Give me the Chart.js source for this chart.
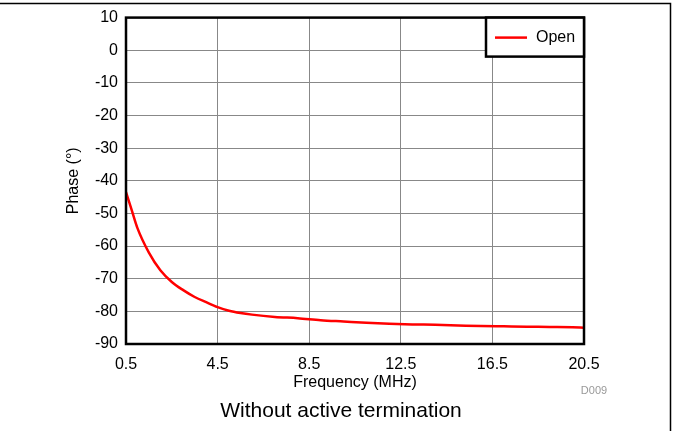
<!DOCTYPE html>
<html>
<head>
<meta charset="utf-8">
<script src="https://cdn.jsdelivr.net/npm/chart.js@4.4.1/dist/chart.umd.min.js"></script>
<style>
  html, body { margin: 0; padding: 0; background: #fff; }
  #wrap { position: relative; width: 673px; height: 431px; }
</style>
</head>
<body>
<div id="wrap"><canvas id="grafico" width="673" height="431"></canvas></div>
<script>
// --- dados ---
const freqMHz = [0.5, 0.75, 1, 1.5, 2, 2.5, 3, 3.5, 4, 4.5, 5, 5.5, 6, 7, 8, 9, 10, 11, 12, 13, 14, 15, 16, 17, 18, 19, 20, 20.5];
const phaseOpen = [-43.5, -49, -54.5, -62, -67.4, -71, -73.5, -75.6, -77.2, -78.7, -79.8, -80.5, -81, -81.7, -82.1, -82.7, -83.1, -83.5, -83.8, -84, -84.1, -84.3, -84.5, -84.6, -84.7, -84.8, -84.9, -85];
const xTicks = [0.5, 4.5, 8.5, 12.5, 16.5, 20.5];
const yTicks = [10, 0, -10, -20, -30, -40, -50, -60, -70, -80, -90];
const serieNome = 'Open';
const tituloX = 'Frequency (MHz)';
const tituloY = 'Phase (\u00b0)';
const tituloBaixo = 'Without active termination';
const codigo = 'D009';

const FONTE = '"Liberation Sans", Arial, sans-serif';

// moldura, legenda e textos
const extras = {
    id: 'extras',
    afterDatasetsDraw(chart) {
        const { ctx, chartArea: a } = chart;
        ctx.save();

        // moldura externa
        ctx.strokeStyle = '#000';
        ctx.lineWidth = 1.5;
        ctx.beginPath();
        ctx.moveTo(0, 3.5);
        ctx.lineTo(670.5, 3.5);
        ctx.lineTo(670.5, 431);
        ctx.stroke();

        // borda do grafico
        ctx.lineWidth = 2.5;
        ctx.strokeRect(a.left, a.top, a.right - a.left, a.bottom - a.top);

        // legenda
        const lx = 486, ly = a.top, lw = a.right - lx, lh = 39;
        ctx.fillStyle = '#fff';
        ctx.fillRect(lx, ly, lw, lh);
        ctx.lineWidth = 2.5;
        ctx.strokeRect(lx, ly, lw, lh);
        ctx.strokeStyle = '#ff0000';
        ctx.lineWidth = 2.5;
        ctx.beginPath();
        ctx.moveTo(495, ly + 20);
        ctx.lineTo(527, ly + 20);
        ctx.stroke();
        ctx.fillStyle = '#000';
        ctx.font = '16px ' + FONTE;
        ctx.textAlign = 'left';
        ctx.textBaseline = 'middle';
        ctx.fillText(serieNome, 536, ly + 20);

        // titulos
        ctx.textAlign = 'center';
        ctx.font = '16px ' + FONTE;
        ctx.fillText(tituloX, (a.left + a.right) / 2, 383);
        ctx.save();
        ctx.translate(74, (a.top + a.bottom) / 2);
        ctx.rotate(-Math.PI / 2);
        ctx.fillText(tituloY, 0, 0);
        ctx.restore();

        ctx.font = '21px ' + FONTE;
        ctx.fillText(tituloBaixo, 341, 411);

        ctx.font = '11px ' + FONTE;
        ctx.fillStyle = '#999';
        ctx.fillText(codigo, 594, 391);
        ctx.restore();
    }
};

new Chart(document.getElementById('grafico'), {
    type: 'line',
    data: {
        datasets: [{
            label: serieNome,
            data: freqMHz.map((f, i) => ({ x: f, y: phaseOpen[i] })),
            borderColor: '#ff0000',
            borderWidth: 2.5,
            pointRadius: 0,
            cubicInterpolationMode: 'monotone',
            fill: false
        }]
    },
    options: {
        responsive: false,
        animation: false,
        layout: { padding: { left: 0, top: 17, right: 89, bottom: 0 } },
        plugins: { legend: { display: false }, tooltip: { enabled: false } },
        scales: {
            x: {
                type: 'linear',
                min: xTicks[0],
                max: xTicks[xTicks.length - 1],
                afterBuildTicks: s => { s.ticks = xTicks.map(v => ({ value: v })); },
                afterFit: s => { s.height = 87; },
                grid: { color: '#888', lineWidth: 1, drawTicks: false },
                border: { display: false },
                ticks: {
                    padding: 11,
                    color: '#000',
                    font: { family: FONTE, size: 16 },
                    callback: v => v.toFixed(1)
                }
            },
            y: {
                min: -90,
                max: 10,
                afterBuildTicks: s => { s.ticks = yTicks.map(v => ({ value: v })); },
                afterFit: s => { s.width = 126; },
                grid: { color: '#888', lineWidth: 1, drawTicks: false },
                border: { display: false },
                ticks: {
                    padding: 8,
                    color: '#000',
                    font: { family: FONTE, size: 16 }
                }
            }
        }
    },
    plugins: [extras]
});
</script>
</body>
</html>
